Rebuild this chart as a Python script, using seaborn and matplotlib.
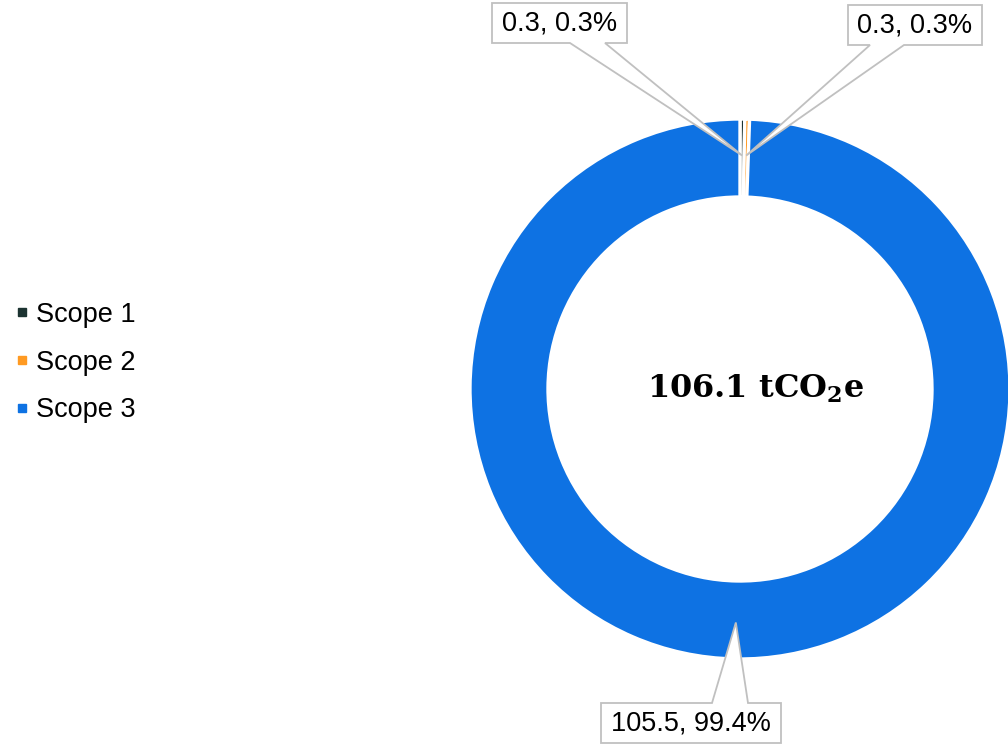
import numpy as np
import matplotlib
matplotlib.use('Agg')
import matplotlib.pyplot as plt
import seaborn as sns
from matplotlib.patches import Polygon
from matplotlib.lines import Line2D

categories = ['Scope 1', 'Scope 2', 'Scope 3']
values = [0.3, 0.3, 105.5]
value_labels = ['0.3', '0.3', '105.5']
percent_labels = ['0.3%', '0.3%', '99.4%']
total_label = r'106.1 tCO$_\mathbf{2}$e'
colors = ['#1c3331', '#ff9a22', '#0e72e3']

sns.set_theme(style='white')
plt.rcParams['font.family'] = ['Liberation Sans', 'DejaVu Sans']
plt.rcParams['mathtext.fontset'] = 'dejavuserif'
plt.rcParams['text.color'] = 'black'

W, H = 1008, 745
fig = plt.figure(figsize=(W / 100, H / 100), dpi=100)
ax = fig.add_axes([0, 0, 1, 1])

cx, cy = 740, H - 389
R, r = 270, 192
wedges, _ = ax.pie(values, colors=colors, startangle=90, counterclock=False,
                   center=(cx, cy), radius=R,
                   wedgeprops=dict(width=R - r, edgecolor='white', linewidth=2.4))
ax.set_xlim(0, W)
ax.set_ylim(0, H)
ax.set_aspect('equal')
ax.axis('off')

# callout boxes: (x0, y0, x1, y1, tail_a, tail_b, tail_on_top) in pixel layout (y down)
boxes = [(492, 3, 627, 43, 570, 605, False),
         (848, 5, 982, 45, 870, 904, False),
         (601, 703, 781, 743, 712, 748, True)]

for w, lab, pct, (x0, y0, x1, y1, ta, tb, top) in zip(wedges, value_labels, percent_labels, boxes):
    th = np.deg2rad((w.theta1 + w.theta2) / 2)
    ra = 0.865 * R
    axp = (cx + ra * np.cos(th), cy + ra * np.sin(th))
    if not top:
        pts = [(x0, y0), (x1, y0), (x1, y1), (tb, y1), None, (ta, y1), (x0, y1)]
    else:
        pts = [(x0, y0), (ta, y0), None, (tb, y0), (x1, y0), (x1, y1), (x0, y1)]
    verts = [axp if p is None else (p[0], H - p[1]) for p in pts]
    ax.add_patch(Polygon(verts, closed=True, facecolor='white', edgecolor='#c0c0c0',
                         linewidth=1.3, zorder=5, joinstyle='miter'))
    ax.text((x0 + x1) / 2, H - (y0 + y1) / 2 - 1, f'{lab}, {pct}', ha='center', va='center',
            fontsize=19.5, color='black', zorder=6)

ax.text(cx + 15, cy, total_label, ha='center', va='center', fontsize=23,
        fontweight='bold', family=['DejaVu Serif'], color='black')

handles = [Line2D([0], [0], marker='s', linestyle='', markersize=6, color=c) for c in colors]
leg = fig.legend(handles, categories, loc='center left', bbox_to_anchor=(16 / W, 1 - 362.5 / H),
                 frameon=False, fontsize=19.5, handlelength=0.45, handletextpad=0.3,
                 labelspacing=0.8, borderpad=0, borderaxespad=0)
for t in leg.get_texts():
    t.set_color('black')

fig.savefig('out.png', dpi=100)
